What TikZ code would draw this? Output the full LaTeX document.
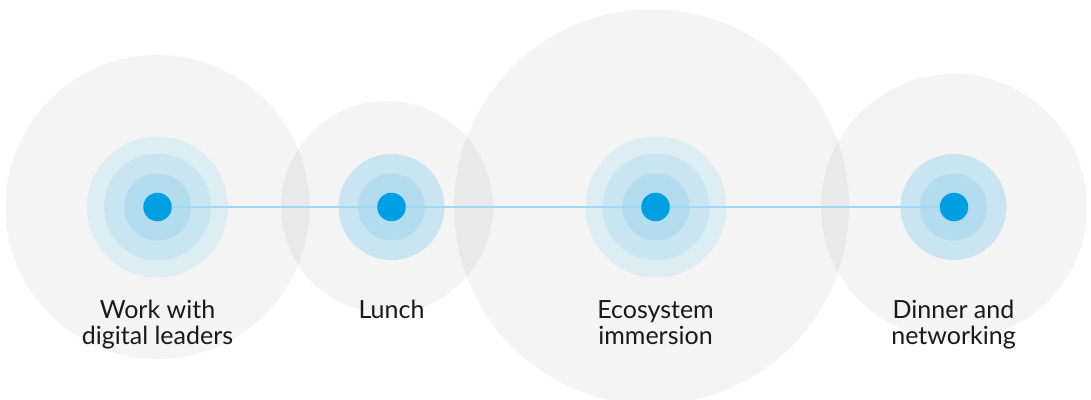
\documentclass[tikz,border=0pt]{standalone}
\usepackage{fontspec}
\setmainfont{Lato}
\definecolor{haze}{RGB}{0,0,0}
\definecolor{ringA}{RGB}{221,237,244}
\definecolor{ringB}{RGB}{200,229,241}
\definecolor{ringC}{RGB}{179,221,238}
\definecolor{dotblue}{RGB}{0,159,227}
\definecolor{linkblue}{RGB}{160,216,243}
\tikzset{
  halo/.style={fill=haze, fill opacity=0.045, draw=none},
  ringouter/.style={fill=ringA, draw=none},
  ringmid/.style={fill=ringB, draw=none},
  ringinner/.style={fill=ringC, draw=none},
  hub/.style={circle, fill=dotblue, draw=none, inner sep=0pt, minimum size=28.5pt},
  link/.style={draw=linkblue, line width=1.3pt},
  caption/.style={align=center, anchor=base, text=black!90, font=\fontsize{25}{26.5}\selectfont, inner sep=0pt}
}
\begin{document}
\begin{tikzpicture}[x=1pt, y=-1pt]
\useasboundingbox (0,0) rectangle (1091,399);
\clip (0,0) rectangle (1091,399);
% large translucent halos
\fill[halo] (157.5,207) circle (152);
\fill[halo] (387,207) circle (106);
\fill[halo] (651.5,207) circle (197.5);
\fill[halo] (954,207) circle (133);
% concentric rings
\fill[ringouter] (157.5,207) circle (70.5);
\fill[ringmid] (157.5,207) circle (53.5);
\fill[ringinner] (157.5,207) circle (33.5);
\fill[ringmid] (391.5,207) circle (53);
\fill[ringinner] (391.5,207) circle (33.5);
\fill[ringouter] (656,207) circle (70.5);
\fill[ringmid] (656,207) circle (53.5);
\fill[ringinner] (656,207) circle (33.5);
\fill[ringmid] (953.5,207) circle (53);
\fill[ringinner] (953.5,207) circle (33.5);
% hubs
\node[hub] (d1) at (157.5,207) {};
\node[hub] (d2) at (391.5,207) {};
\node[hub] (d3) at (655.5,207) {};
\node[hub] (d4) at (954,207) {};
% connecting line
\draw[link] (d1) -- (d2) -- (d3) -- (d4);
% captions (base anchor = baseline of the last line)
\node[caption] (t1) at (157.5,344.5) {Work with\\digital leaders};
\node[caption] (t2) at (391.5,318) {Lunch};
\node[caption] (t3) at (655.5,344.5) {Ecosystem\\immersion};
\node[caption] (t4) at (953.5,344.5) {Dinner and\\networking};
\end{tikzpicture}
\end{document}
